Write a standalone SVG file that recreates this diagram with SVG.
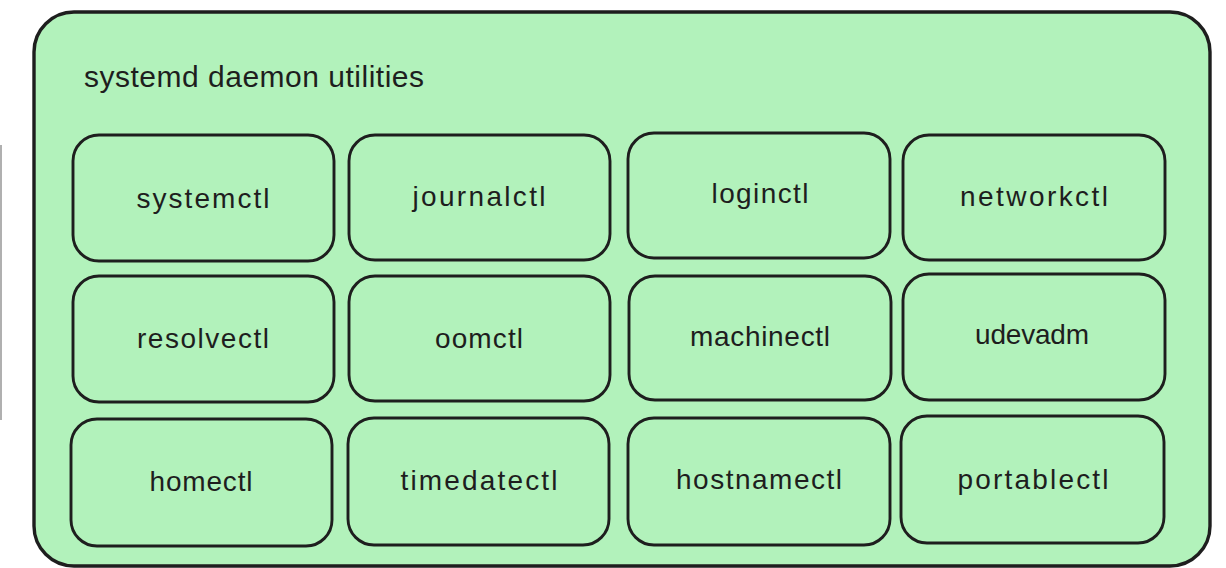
<svg xmlns="http://www.w3.org/2000/svg" width="1226" height="568" viewBox="0 0 1226 568">
  <style>
    .frame { fill: #b2f2bb; stroke: #1e1e1e; stroke-width: 3.4; }
    .box { fill: #b2f2bb; stroke: #1e1e1e; stroke-width: 2.9; }
    .lbl { font-family: "Liberation Sans", Arial, sans-serif; font-size: 28px; fill: #1e1e1e; text-anchor: middle; }
    .title { font-family: "Liberation Sans", Arial, sans-serif; font-size: 30px; fill: #1e1e1e; }
  </style>
  <rect width="1226" height="568" fill="#ffffff"/>
  <line x1="1" y1="145" x2="1" y2="420" stroke="#b0b0b0" stroke-width="2"/>
  <g id="container">
    <rect class="frame" x="34" y="12" width="1176" height="554" rx="40" ry="40"/>
    <text class="title" x="84" y="87" textLength="340" lengthAdjust="spacing">systemd daemon utilities</text>
  </g>
  <g id="connectors"></g>
  <g id="node-systemctl">
    <rect class="box" x="73" y="135" width="261" height="126" rx="26"/>
    <text class="lbl" x="203" y="208" textLength="133" lengthAdjust="spacing">systemctl</text>
  </g>
  <g id="node-journalctl">
    <rect class="box" x="349" y="135" width="261" height="125" rx="26"/>
    <text class="lbl" x="479" y="206" textLength="133" lengthAdjust="spacing">journalctl</text>
  </g>
  <g id="node-loginctl">
    <rect class="box" x="628" y="133" width="262" height="125" rx="26"/>
    <text class="lbl" x="760" y="203" textLength="97" lengthAdjust="spacing">loginctl</text>
  </g>
  <g id="node-networkctl">
    <rect class="box" x="903" y="135" width="262" height="125" rx="26"/>
    <text class="lbl" x="1034" y="206" textLength="148" lengthAdjust="spacing">networkctl</text>
  </g>
  <g id="node-resolvectl">
    <rect class="box" x="73" y="276" width="261" height="126" rx="26"/>
    <text class="lbl" x="203" y="348" textLength="132" lengthAdjust="spacing">resolvectl</text>
  </g>
  <g id="node-oomctl">
    <rect class="box" x="349" y="276" width="261" height="125" rx="26"/>
    <text class="lbl" x="479" y="348" textLength="88" lengthAdjust="spacing">oomctl</text>
  </g>
  <g id="node-machinectl">
    <rect class="box" x="629" y="276" width="262" height="124" rx="26"/>
    <text class="lbl" x="760" y="346" textLength="140" lengthAdjust="spacing">machinectl</text>
  </g>
  <g id="node-udevadm">
    <rect class="box" x="903" y="274" width="262" height="126" rx="26"/>
    <text class="lbl" x="1032" y="344" textLength="114" lengthAdjust="spacing">udevadm</text>
  </g>
  <g id="node-homectl">
    <rect class="box" x="71" y="419" width="261" height="127" rx="26"/>
    <text class="lbl" x="201" y="491" textLength="103" lengthAdjust="spacing">homectl</text>
  </g>
  <g id="node-timedatectl">
    <rect class="box" x="348" y="418" width="261" height="127" rx="26"/>
    <text class="lbl" x="479" y="490" textLength="157" lengthAdjust="spacing">timedatectl</text>
  </g>
  <g id="node-hostnamectl">
    <rect class="box" x="628" y="418" width="262" height="127" rx="26"/>
    <text class="lbl" x="759" y="489" textLength="166" lengthAdjust="spacing">hostnamectl</text>
  </g>
  <g id="node-portablectl">
    <rect class="box" x="901" y="416" width="263" height="127" rx="26"/>
    <text class="lbl" x="1033" y="489" textLength="151" lengthAdjust="spacing">portablectl</text>
  </g>
</svg>
